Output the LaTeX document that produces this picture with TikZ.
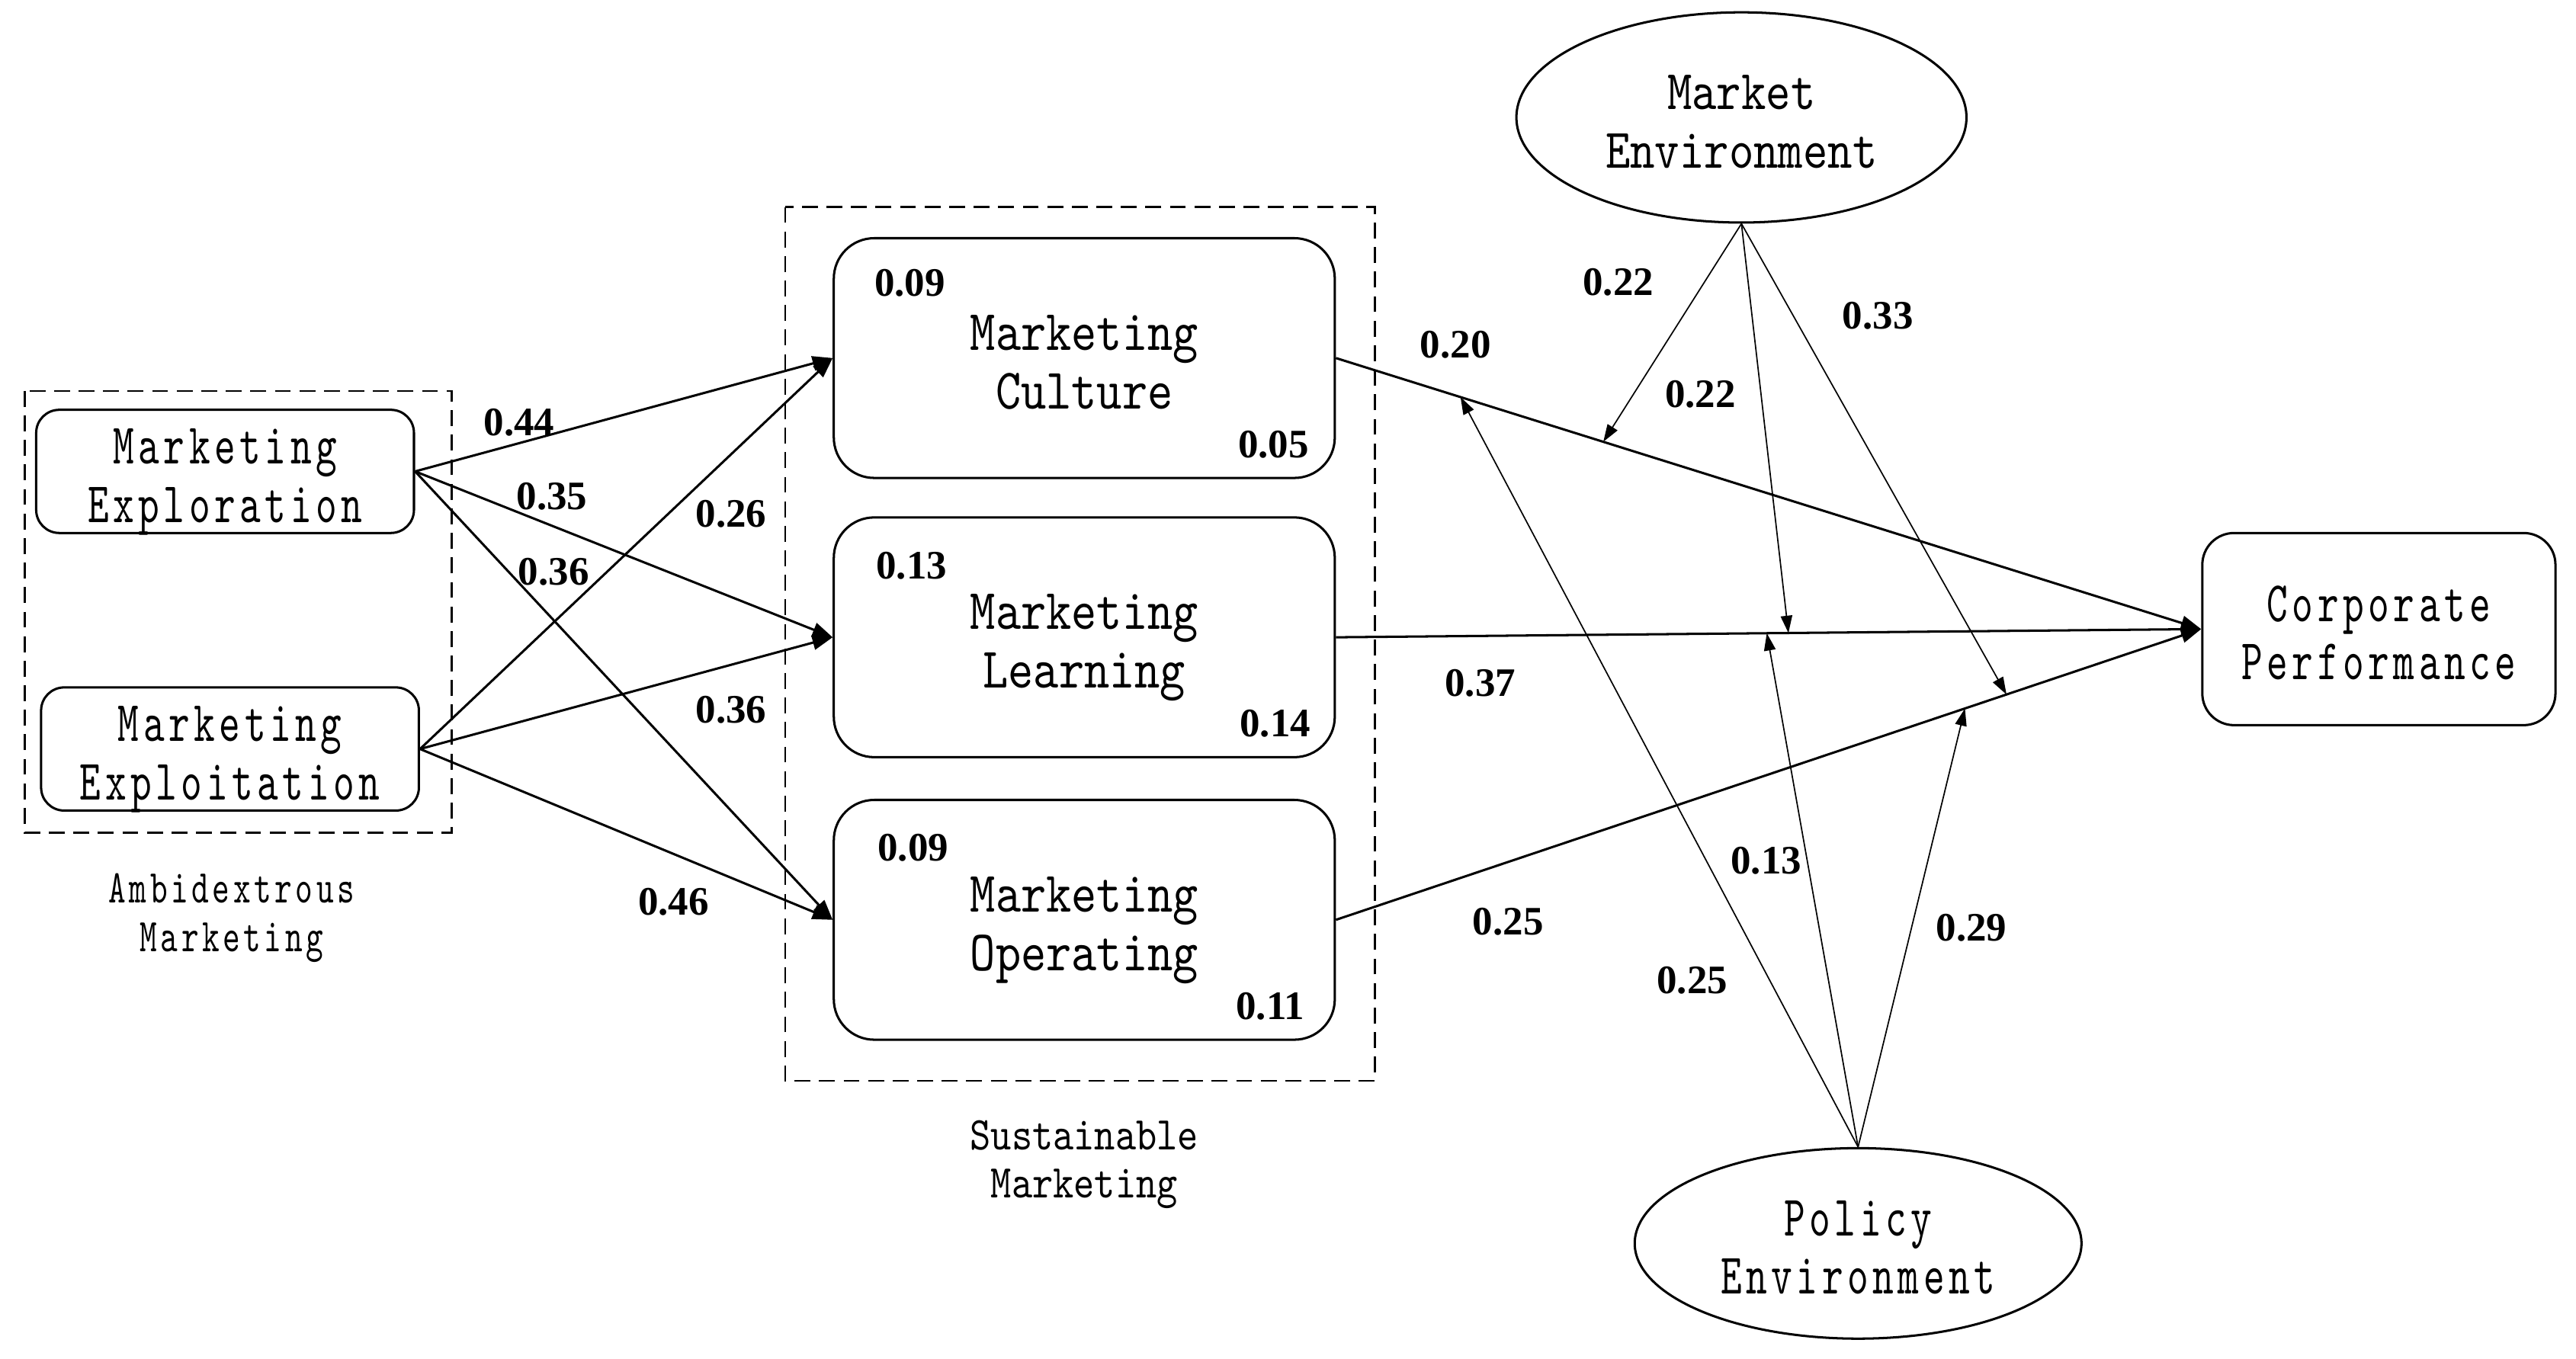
\documentclass[tikz,border=0pt]{standalone}
\usepackage{fontspec}
\setmainfont{Liberation Serif}
\newfontfamily\widett{lmmono10-regular}[Extension=.otf, FakeStretch=0.84]
\newfontfamily\narrowtt{lmmono10-regular}[Extension=.otf, FakeStretch=0.7, LetterSpace=7.4]
\usepackage{tikz}
\usetikzlibrary{arrows.meta, shapes.geometric, calc}

\begin{document}
\begin{tikzpicture}[x=0.02cm, y=-0.02cm, line width=0.8pt,
    twolines/.style={align=center, text height=35.2pt, text depth=0pt},
    widefont/.style={font=\widett\fontsize{19.9}{20.3}\selectfont},
    narrowfont/.style={font=\narrowtt\fontsize{19.9}{20.3}\selectfont},
    srcbox/.style={draw, rounded corners=8pt, twolines, narrowfont, minimum width=4.6cm, minimum height=1.5cm},
    midbox/.style={draw, rounded corners=14pt, twolines, widefont, minimum width=6.1cm, minimum height=2.92cm},
    envell/.style={draw, ellipse, twolines, inner sep=0pt},
    group/.style={dash pattern=on 5.5pt off 3pt, line width=0.7pt},
    num/.style={font=\fontsize{14}{16}\selectfont\bfseries},
    main/.style={-{Triangle[length=7pt, width=5pt]}},
    modr/.style={line width=0.45pt, -{Triangle[length=6pt, width=4pt]}}]
    \useasboundingbox (0,0) rectangle (1568,827);

    \draw[group] (15,238) rectangle (275,507);
    \draw[group] (478,126) rectangle (837,658);

    \node[srcbox] (explo) at (137,287) {Marketing\\Exploration};
    \node[srcbox] (exploi) at (140,456) {Marketing\\Exploitation};
    \node[font=\narrowtt\fontsize{16.3}{16.8}\selectfont, align=center] (amb) at (141,559) {Ambidextrous\\Marketing};

    \node[midbox] (cul) at (660,218) {Marketing\\Culture};
    \node[midbox] (lea) at (660,388) {Marketing\\Learning};
    \node[midbox] (ope) at (660,560) {Marketing\\Operating};
    \node[font=\widett\fontsize{16.3}{16.8}\selectfont, align=center] (sus) at (660,709) {Sustainable\\Marketing};

    \node[num] at ($(cul.north west)+(47,28)$) {0.09};
    \node[num] at ($(cul.south east)+(-38,-21)$) {0.05};
    \node[num] at ($(lea.north west)+(48,30)$) {0.13};
    \node[num] at ($(lea.south east)+(-37,-21)$) {0.14};
    \node[num] at ($(ope.north west)+(49,30)$) {0.09};
    \node[num] at ($(ope.south east)+(-40,-21)$) {0.11};

    \node[draw, rounded corners=11pt, twolines, narrowfont, minimum width=4.3cm, minimum height=2.34cm] (cp) at (1448,383) {Corporate\\Performance};
    \node[envell, font=\widett\fontsize{19.4}{20.3}\selectfont, minimum width=5.48cm, minimum height=2.56cm] (mkt) at (1060,71.5) {Market\\Environment};
    \node[envell, narrowfont, minimum width=5.44cm, minimum height=2.32cm] (pol) at (1131,757) {Policy\\Environment};

    \draw[main] (explo.east) -- (cul.west);
    \draw[main] (explo.east) -- (lea.west);
    \draw[main] (explo.east) -- (ope.west);
    \draw[main] (exploi.east) -- (cul.west);
    \draw[main] (exploi.east) -- (lea.west);
    \draw[main] (exploi.east) -- (ope.west);
    \draw[main] (cul.east) -- (cp.west);
    \draw[main] (lea.east) -- (cp.west);
    \draw[main] (ope.east) -- (cp.west);

    \coordinate (cm) at ($(cul.east)!0.309!(cp.west)$);
    \coordinate (cp1) at ($(cul.east)!0.144!(cp.west)$);
    \coordinate (lm) at ($(lea.east)!0.523!(cp.west)$);
    \coordinate (lp) at ($(lea.east)!0.498!(cp.west)$);
    \coordinate (om) at ($(ope.east)!0.775!(cp.west)$);
    \coordinate (op) at ($(ope.east)!0.727!(cp.west)$);

    \draw[modr] (mkt.south) -- (cm);
    \draw[modr] (mkt.south) -- (lm);
    \draw[modr] (mkt.south) -- (om);
    \draw[modr] (pol.north) -- (cp1);
    \draw[modr] (pol.north) -- (lp);
    \draw[modr] (pol.north) -- (op);

    \node[num] at (316,257) {0.44};
    \node[num] at (336,302) {0.35};
    \node[num] at (337,348) {0.36};
    \node[num] at (445,313) {0.26};
    \node[num] at (445,432) {0.36};
    \node[num] at (410,549) {0.46};
    \node[num] at (886,210) {0.20};
    \node[num] at (901,416) {0.37};
    \node[num] at (918,561) {0.25};
    \node[num] at (985,172) {0.22};
    \node[num] at (1035,240) {0.22};
    \node[num] at (1143,192) {0.33};
    \node[num] at (1030,597) {0.25};
    \node[num] at (1075,524) {0.13};
    \node[num] at (1200,565) {0.29};
\end{tikzpicture}
\end{document}
